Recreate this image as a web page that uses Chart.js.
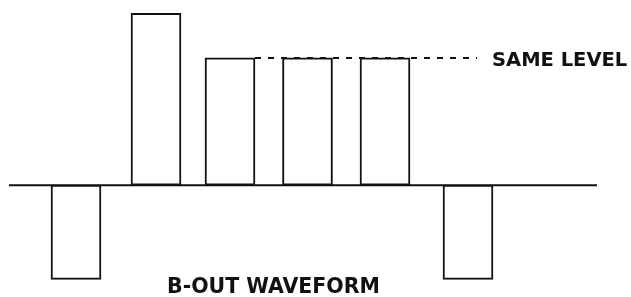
<!DOCTYPE html>
<html>
<head>
<meta charset="utf-8">
<script src="https://cdn.jsdelivr.net/npm/chart.js@4/dist/chart.umd.min.js"></script>
<style>
  html, body { margin: 0; padding: 0; background: #fff; }
  #wrap { width: 631px; height: 297px; position: relative; }
</style>
</head>
<body>
<div id="wrap"><canvas id="waveChart"></canvas></div>
<script>
// ==================== B-OUT WAVEFORM ====================

// pulse centres along the time axis (arbitrary units)
const pulseTimes = [7.6, 15.6, 23.0, 30.75, 38.5, 46.8];
// pulse levels as [low, high], relative to the "same level" = 1
const pulseLevels = [[-0.74, 0], [0, 1.35], [0, 1], [0, 1], [0, 1], [-0.74, 0]];
// zero line extent
const baseTimes = [0.9, 59.7];
// dashed reference line for the equal pulses
const refTimes = [25.5, 47.7];
const refLevel = 1;

const labels = { sameLevel: 'SAME LEVEL', title: 'B-OUT WAVEFORM' };

const annotate = {
    id: 'annotate',
    afterDraw(chart) {
        const { ctx, scales: { x, y } } = chart;
        ctx.save();
        ctx.fillStyle = '#111';
        ctx.textAlign = 'left';
        ctx.textBaseline = 'alphabetic';
        ctx.font = 'bold 19.5px "DejaVu Sans", sans-serif';
        ctx.fillText(labels.sameLevel, x.getPixelForValue(49.2), y.getPixelForValue(refLevel) + 8);
        ctx.font = 'bold 20.5px "DejaVu Sans", sans-serif';
        ctx.fillText(labels.title, x.getPixelForValue(16.7), y.getPixelForValue(-0.847));
        ctx.restore();
    }
};

const ctx = document.getElementById('waveChart').getContext('2d');
new Chart(ctx, {
    type: 'bar',
    data: {
        datasets: [
            {
                type: 'bar',
                label: 'pulses',
                data: pulseTimes.map((t, i) => ({ x: t, y: pulseLevels[i] })),
                backgroundColor: '#fff',
                borderColor: '#111',
                borderWidth: 2,
                borderSkipped: false,
                barThickness: 50,
                order: 0
            },
            {
                type: 'line',
                label: 'zero',
                data: baseTimes.map(t => ({ x: t, y: 0 })),
                borderColor: '#111',
                borderWidth: 2,
                pointRadius: 0,
                order: 2
            },
            {
                type: 'line',
                label: 'same level',
                data: refTimes.map(t => ({ x: t, y: refLevel })),
                borderColor: '#111',
                borderWidth: 2,
                borderDash: [6, 7],
                pointRadius: 0,
                order: 1
            }
        ]
    },
    options: {
        responsive: true,
        maintainAspectRatio: false,
        animation: false,
        layout: { padding: { top: 7, bottom: 10, left: 0, right: 0 } },
        plugins: { legend: { display: false }, tooltip: { enabled: false } },
        scales: {
            x: { type: 'linear', min: 0, max: 63.1, offset: false, display: false },
            y: { min: -0.8, max: 1.4, display: false }
        }
    },
    plugins: [annotate]
});
</script>
</body>
</html>
